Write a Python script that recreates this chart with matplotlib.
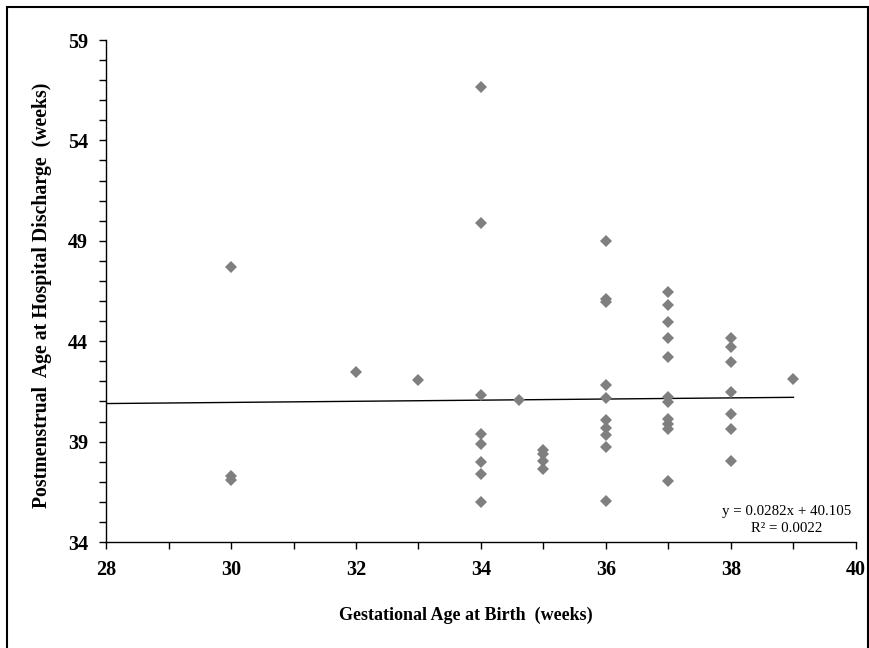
import matplotlib.pyplot as plt
import numpy as np
from matplotlib.patches import Rectangle
from matplotlib.transforms import IdentityTransform

# Data
ga_birth = [30, 30, 30,
            32, 33,
            34, 34, 34, 34, 34, 34, 34, 34,
            34.6,
            35, 35, 35, 35,
            36, 36, 36, 36, 36, 36, 36, 36, 36, 36,
            37, 37, 37, 37, 37, 37, 37, 37, 37, 37, 37,
            38, 38, 38, 38, 38, 38, 38,
            39]
pma_discharge = [47.7, 37.3, 37.1,
                 42.45, 42.05,
                 56.65, 49.9, 41.3, 39.4, 38.9, 38.0, 37.4, 36.0,
                 41.05,
                 38.6, 38.4, 38.05, 37.65,
                 49.0, 46.1, 45.95, 41.8, 41.15, 40.1, 39.7, 39.35, 38.75, 36.05,
                 46.45, 45.8, 44.95, 44.15, 43.2, 41.2, 40.95, 40.15, 39.9, 39.65, 37.05,
                 44.15, 43.7, 42.95, 41.45, 40.35, 39.65, 38.05,
                 42.1]

slope = 0.0282
intercept = 40.105
r2 = 0.0022
trend_x = [28, 39]

plt.rcParams['font.family'] = ['Liberation Serif', 'DejaVu Serif']

fig = plt.figure(figsize=(8.7, 6.48), dpi=100)
ax = fig.add_axes([106 / 870, 1 - 542 / 648, 750 / 870, 502 / 648])

# outer chart border
fig.patches.append(Rectangle((7 / 870, -0.05), 861 / 870, 1 - 7 / 648 + 0.05,
                             transform=fig.transFigure, fill=False,
                             edgecolor='black', linewidth=1.5))

ax.plot(ga_birth, pma_discharge, linestyle='none', marker='D', markersize=6.4,
        color='#7f7f7f', markeredgewidth=0, zorder=3)

tx = np.array(trend_x)
ax.plot(tx, slope * tx + intercept, color='black', linewidth=1.0, zorder=2)

ax.set_xlim(28, 40)
ax.set_ylim(34, 59)
ax.set_xticks(range(28, 41, 2))
ax.set_xticks(range(28, 41), minor=True)
ax.set_yticks(range(34, 60, 5))
ax.set_yticks(range(34, 60), minor=True)

for side in ['top', 'right']:
    ax.spines[side].set_visible(False)
for side in ['left', 'bottom']:
    ax.spines[side].set_linewidth(1.0)

ax.tick_params(axis='both', which='both', direction='out', length=5, width=1)
ax.tick_params(axis='x', which='major', pad=8)
ax.tick_params(axis='y', which='major', pad=8)
for lab in ax.get_xticklabels() + ax.get_yticklabels():
    lab.set_fontsize(14.5)
    lab.set_fontweight('bold')

fig.text(466 / 870, 1 - 615 / 648, 'Gestational Age at Birth  (weeks)',
         ha='center', va='center', fontsize=13, fontweight='bold')
fig.text(42 / 870, 1 - 295 / 648, 'Postmenstrual  Age at Hospital Discharge  (weeks)',
         ha='center', va='center', rotation=90, fontsize=14.2, fontweight='bold')

eq = fig.text(787, 648 - 520, 'y = %.4fx + %.3f\nR\u00b2 = %.4f' % (slope, intercept, r2),
              ha='center', va='center', fontsize=10.7, linespacing=1.3)
eq.set_transform(IdentityTransform())

fig.savefig('out.png', dpi=100)
